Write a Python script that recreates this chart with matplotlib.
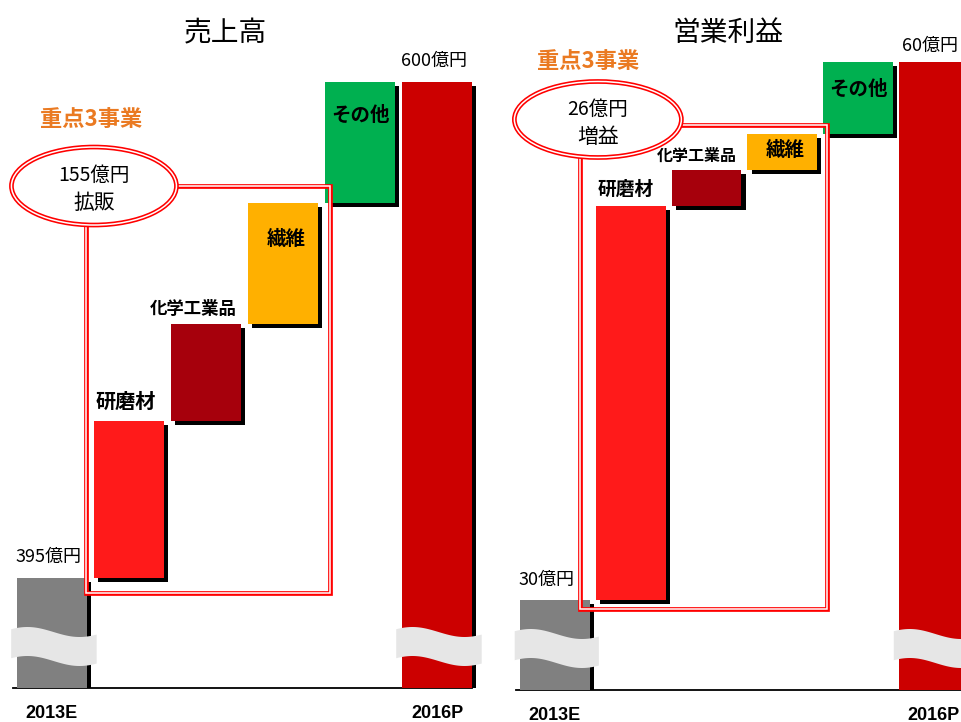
import numpy as np
import matplotlib
matplotlib.use("Agg")
import matplotlib.pyplot as plt
from matplotlib.patches import Ellipse
from matplotlib import patheffects as pe
from matplotlib.transforms import ScaledTranslation, blended_transform_factory

plt.rcParams["font.family"] = ["Noto Sans CJK JP", "DejaVu Sans"]

# data
categories = ["2013E", "研磨材", "化学工業品", "繊維", "その他", "2016P"]
bar_colors = ["#808080", "#ff1a1a", "#a6000c", "#ffb000", "#00b050", "#cc0000"]

sales_start = 395
sales_steps = [65, 40, 50, 50]
sales_end = 600
sales_focus = "155億円\n拡販"

profit_start = 30
profit_steps = [22, 2, 2, 4]
profit_end = 60
profit_focus = "26億円\n増益"

W, H = 962, 722
fig = plt.figure(figsize=(W / 100, H / 100), dpi=100)
RED = "#ff0000"
ORANGE = "#ea7a22"


def add_px_axes(x0, w, bottom_px):
    ax = fig.add_axes([x0 / W, (H - bottom_px) / H, w / W, bottom_px / H])
    ax.axis("off")
    return ax


def draw_waterfall(ax, start, steps, end, bw, ah, lab_cfg):
    y0 = ax.get_ylim()[0]
    shadow = [pe.SimplePatchShadow(offset=(3, -3), shadow_rgbFace="black", alpha=1.0), pe.Normal()]
    bottoms = [y0]
    heights = [start - y0]
    cum = start
    for s in steps:
        bottoms.append(cum)
        heights.append(s)
        cum += s
    bottoms.append(y0)
    heights.append(end - y0)
    x = np.arange(len(categories))
    bars = ax.bar(x, heights, bottom=bottoms, width=bw, color=bar_colors, zorder=3)
    for b in bars:
        b.set_path_effects(shadow)

    # baseline
    ax.plot([-0.51, lab_cfg["base_end"]], [y0, y0], color="black", lw=1.3, zorder=2, clip_on=False)

    # break marks on first and last bars
    tr = blended_transform_factory(ax.transData, ax.transAxes)
    t = np.linspace(0, 1, 80)
    for i in (0, len(categories) - 1):
        xs = i - 0.53 + t * 1.11
        top = 56 + 5 * np.cos(np.pi * (t - 0.19) / 0.61)
        bot = top - 29
        ax.fill(np.r_[xs, xs[::-1]], np.r_[top, bot[::-1]] / ah, transform=tr,
                color="#e6e6e6", zorder=5, clip_on=False, lw=0)

    # value labels
    ax.annotate(lab_cfg["start_txt"], xy=(-bw / 2, start), xytext=(-1, 15),
                textcoords="offset points", ha="left", va="center", fontsize=13)
    ax.annotate(lab_cfg["end_txt"], xy=(len(categories) - 1 - bw / 2, end), xytext=lab_cfg["end_off"],
                textcoords="offset points", ha="left", va="center", fontsize=13)

    # category labels
    tops = [bottoms[i] + heights[i] for i in range(len(categories))]
    ax.annotate(categories[1], xy=(1 - bw / 2, tops[1]), xytext=(1, lab_cfg["c1_dy"]),
                textcoords="offset points", ha="left", va="center", fontsize=lab_cfg["c1_fs"],
                fontweight="bold")
    ax.annotate(categories[2], xy=(2 + bw / 2, tops[2]), xytext=(-3, lab_cfg["c2_dy"]),
                textcoords="offset points", ha="right", va="center", fontsize=lab_cfg["c2_fs"],
                fontweight="bold")
    ax.annotate(categories[3], xy=(3, tops[3]), xytext=(2, lab_cfg["c3_dy"]),
                textcoords="offset points", ha="center", va="center", fontsize=14,
                fontweight="bold", zorder=6)
    ax.annotate(categories[4], xy=(4, tops[4]), xytext=(0, lab_cfg["c4_dy"]),
                textcoords="offset points", ha="center", va="center", fontsize=14,
                fontweight="bold", zorder=6)

    # axis labels
    for i in (0, len(categories) - 1):
        ax.annotate(categories[i], xy=(i, y0), xytext=(0, -18), textcoords="offset points",
                    ha="center", va="center", fontsize=13, fontweight="bold",
                    family="Liberation Sans", annotation_clip=False)

    # focus bracket
    rx0, rx1, ry0, ry1 = lab_cfg["rect"]
    for lw, c, z in ((3.4, RED, 7), (1.1, "white", 8)):
        ax.plot([rx0, rx1, rx1, rx0, rx0], [ry1, ry1, ry0, ry0, ry1], color=c, lw=lw,
                zorder=z, solid_joinstyle="miter", clip_on=False)

    ex, ey, ew, eh = lab_cfg["ellipse"]
    etr = fig.dpi_scale_trans + ScaledTranslation(ex, ey, ax.transData)
    ax.add_patch(Ellipse((0, 0), ew / 100, eh / 100, transform=etr, facecolor="white",
                         edgecolor=RED, lw=3.4, zorder=9, clip_on=False))
    ax.add_patch(Ellipse((0, 0), ew / 100, eh / 100, transform=etr, fill=False,
                         edgecolor="white", lw=1.1, zorder=10, clip_on=False))
    line1, line2 = lab_cfg["focus"].split("\n")
    ax.annotate(line1, xy=(ex, ey), xytext=(0, 7.5), textcoords="offset points",
                ha="center", va="center", fontsize=14, zorder=11)
    ax.annotate(line2, xy=(ex, ey), xytext=(0, -12.5), textcoords="offset points",
                ha="center", va="center", fontsize=15, zorder=11)


# left panel: sales
ax1 = add_px_axes(0, 490, 688)
ax1.set_xlim(-0.675, 5.688)
ax1.set_ylim(349.5, 633.9)
draw_waterfall(ax1, sales_start, sales_steps, sales_end, 0.91, 688, {
    "base_end": 5.45,
    "start_txt": f"{sales_start}億円",
    "end_txt": f"{sales_end}億円",
    "end_off": (-1, 15),
    "c1_dy": 14, "c1_fs": 14.5,
    "c2_dy": 11, "c2_fs": 12.5,
    "c3_dy": -26, "c4_dy": -24,
    "rect": (0.445, 3.61, 388.8, 557),
    "ellipse": (0.545, 557, 165, 78),
    "focus": sales_focus,
})

# right panel: operating profit
ax2 = add_px_axes(495, 467, 690)
ax2.set_xlim(-0.79, 5.37)
ax2.set_ylim(25, 63.46)
draw_waterfall(ax2, profit_start, profit_steps, profit_end, 0.92, 690, {
    "base_end": 5.37,
    "start_txt": f"{profit_start}億円",
    "end_txt": f"{profit_end}億円",
    "end_off": (2, 11.5),
    "c1_dy": 11.5, "c1_fs": 13.5,
    "c2_dy": 10, "c2_fs": 11.5,
    "c3_dy": -12, "c4_dy": -20,
    "rect": (0.33, 3.59, 29.5, 56.5),
    "ellipse": (0.567, 56.8, 167, 76),
    "focus": profit_focus,
})

# titles and focus labels
fig.text(225 / W, 1 - 33 / H, "売上高", ha="center", va="center", fontsize=20)
fig.text(728 / W, 1 - 33 / H, "営業利益", ha="center", va="center", fontsize=20)
fig.text(40 / W, 1 - 120 / H, "重点3事業", ha="left", va="center", fontsize=16,
         fontweight="bold", color=ORANGE)
fig.text(537 / W, 1 - 62 / H, "重点3事業", ha="left", va="center", fontsize=16,
         fontweight="bold", color=ORANGE)

fig.savefig("out.png", dpi=100)
